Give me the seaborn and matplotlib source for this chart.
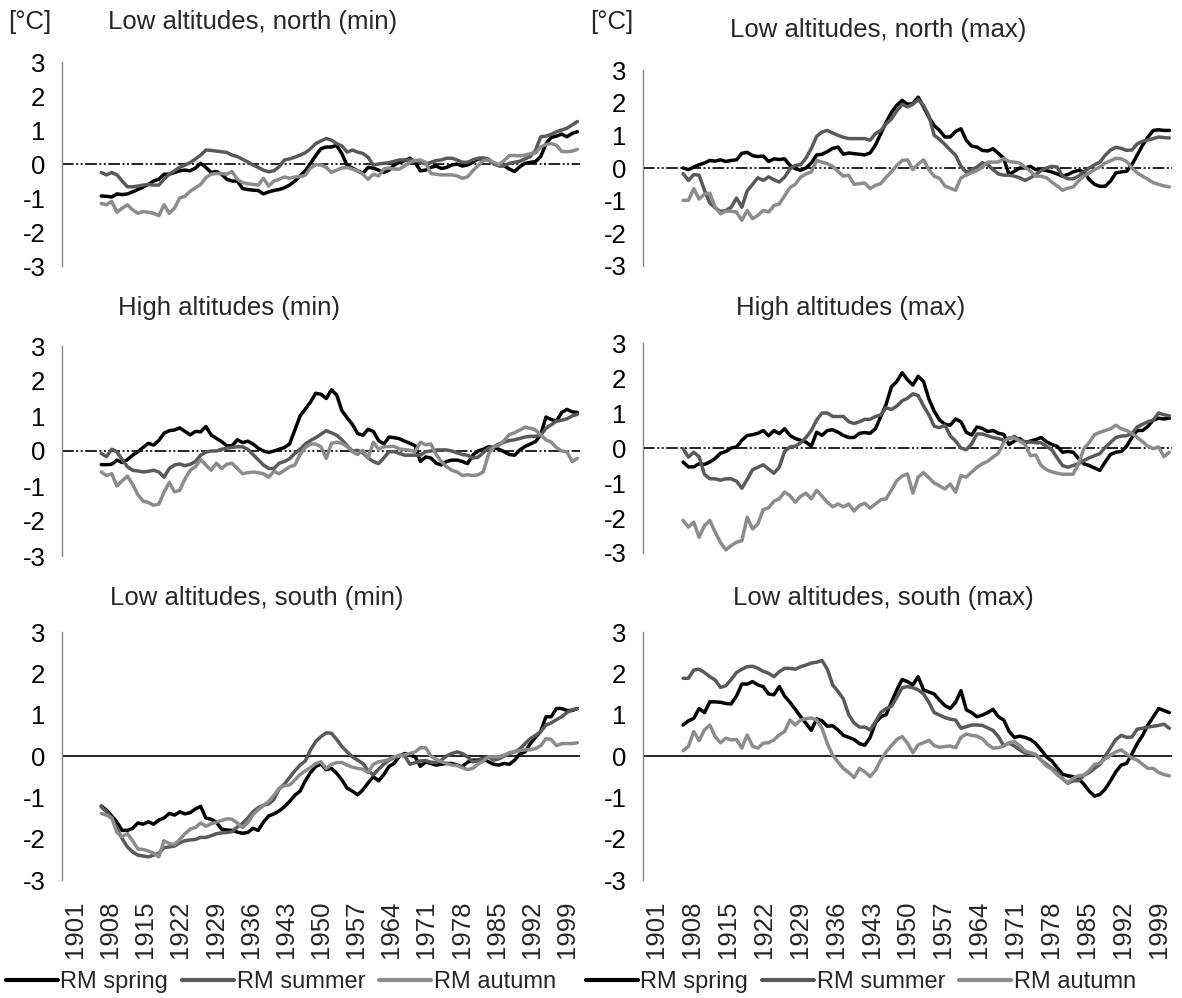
import matplotlib
matplotlib.use("Agg")
import matplotlib.pyplot as plt
import seaborn as sns
import pandas as pd
from matplotlib.lines import Line2D

years = list(range(1908, 2000))
xtick_years = list(range(1901, 2000, 7))
season_names = ["RM spring", "RM summer", "RM autumn"]

# ---------------- Low altitudes, north (min)
nmin_spring = [-0.94, -0.95,
    -0.97, -0.88, -0.9, -0.88, -0.82, -0.75, -0.68, -0.6, -0.5, -0.45,
    -0.3, -0.3, -0.25, -0.2, -0.18, -0.2, -0.12, 0.02, -0.1, -0.25,
    -0.22, -0.3, -0.45, -0.5, -0.5, -0.72, -0.75, -0.77, -0.78, -0.88,
    -0.82, -0.78, -0.75, -0.7, -0.62, -0.5, -0.35, -0.2, 0.02, 0.25,
    0.45, 0.5, 0.5, 0.55, 0.3, -0.05, -0.12, -0.2, -0.27, -0.1,
    -0.12, -0.18, -0.25, -0.18, -0.03, 0.05, 0.1, 0.17, 0.04, -0.2,
    -0.18, -0.1, -0.06, -0.13, -0.1, -0.03, 0.0, -0.06, -0.03, 0.05,
    0.15, 0.15, 0.12, 0.02, -0.05, -0.05, -0.15, -0.22, -0.08, 0.02,
    0.05, 0.07, 0.22, 0.6, 0.78, 0.82, 0.88, 0.8, 0.9, 0.95]
nmin_summer = [-0.25, -0.32,
    -0.25, -0.32, -0.5, -0.67, -0.67, -0.65, -0.62, -0.6, -0.62, -0.62,
    -0.45, -0.3, -0.2, -0.1, -0.03, 0.04, 0.15, 0.26, 0.41, 0.4,
    0.38, 0.36, 0.34, 0.26, 0.22, 0.14, 0.06, -0.03, -0.1, -0.18,
    -0.23, -0.2, -0.08, 0.12, 0.15, 0.2, 0.26, 0.33, 0.45, 0.6,
    0.68, 0.75, 0.7, 0.6, 0.53, 0.35, 0.41, 0.35, 0.31, 0.2,
    -0.03, 0.0, 0.02, 0.04, 0.08, 0.12, 0.12, 0.12, 0.1, 0.05,
    0.0, 0.05, 0.1, 0.12, 0.17, 0.17, 0.12, 0.05, 0.05, 0.12,
    0.17, 0.18, 0.15, 0.0, -0.05, -0.05, 0.02, 0.05, 0.08, 0.15,
    0.22, 0.4, 0.8, 0.82, 0.87, 0.95, 1.0, 1.05, 1.15, 1.25]
nmin_autumn = [-1.16, -1.2,
    -1.1, -1.42, -1.3, -1.2, -1.35, -1.45, -1.4, -1.42, -1.45, -1.52,
    -1.2, -1.45, -1.3, -1.0, -0.95, -0.8, -0.7, -0.6, -0.4, -0.3,
    -0.28, -0.28, -0.3, -0.22, -0.45, -0.55, -0.58, -0.6, -0.62, -0.42,
    -0.65, -0.5, -0.45, -0.38, -0.42, -0.38, -0.37, -0.33, -0.12, -0.02,
    -0.03, -0.1, -0.25, -0.18, -0.12, -0.1, -0.15, -0.2, -0.3, -0.45,
    -0.3, -0.35, -0.15, -0.12, -0.15, -0.15, -0.05, 0.05, 0.1, 0.12,
    0.05, -0.28, -0.3, -0.32, -0.32, -0.32, -0.35, -0.42, -0.38, -0.2,
    -0.05, 0.1, 0.12, 0.05, -0.02, 0.1, 0.25, 0.25, 0.24, 0.26,
    0.3, 0.33, 0.5, 0.58, 0.6, 0.55, 0.37, 0.36, 0.38, 0.43]

# ---------------- Low altitudes, north (max)
nmax_spring = [0.0, -0.05,
    0.03, 0.1, 0.15, 0.23, 0.21, 0.25, 0.2, 0.23, 0.25, 0.45,
    0.48, 0.38, 0.35, 0.37, 0.2, 0.28, 0.26, 0.28, 0.08, -0.02,
    -0.07, 0.0, 0.15, 0.4, 0.42, 0.5, 0.6, 0.64, 0.42, 0.46,
    0.44, 0.42, 0.4, 0.46, 0.7, 1.05, 1.4, 1.7, 1.92, 2.07,
    1.95, 1.97, 2.17, 1.87, 1.55, 1.3, 1.15, 0.95, 0.95, 1.12,
    1.2, 0.85, 0.67, 0.64, 0.54, 0.52, 0.59, 0.45, 0.3, -0.2,
    -0.1, 0.0, 0.0, 0.05, -0.05, -0.05, -0.08, -0.12, -0.18, -0.25,
    -0.2, -0.12, -0.07, -0.12, -0.35, -0.5, -0.56, -0.56, -0.4, -0.15,
    -0.12, -0.1, 0.1, 0.4, 0.7, 0.95, 1.15, 1.17, 1.15, 1.15]
nmax_summer = [-0.17, -0.38,
    -0.2, -0.22, -0.68, -1.07, -1.22, -1.33, -1.3, -1.2, -0.92, -1.2,
    -0.7, -0.5, -0.3, -0.38, -0.27, -0.36, -0.43, -0.28, -0.03, 0.08,
    0.1, 0.3, 0.6, 0.97, 1.1, 1.15, 1.07, 1.0, 0.94, 0.9,
    0.9, 0.9, 0.9, 0.85, 1.05, 1.15, 1.35, 1.5, 1.75, 1.95,
    1.87, 1.95, 2.09, 1.92, 1.6, 1.0, 0.88, 0.72, 0.55, 0.39,
    0.05, -0.13, -0.05, 0.03, 0.16, 0.1, -0.05, -0.18, -0.22, -0.22,
    -0.25, -0.3, -0.38, -0.3, -0.2, -0.08, 0.0, 0.05, 0.03, -0.25,
    -0.33, -0.33, -0.25, -0.12, 0.0, 0.1, 0.18, 0.39, 0.55, 0.63,
    0.6, 0.54, 0.55, 0.74, 0.82, 0.86, 0.9, 0.95, 0.93, 0.92]
nmax_autumn = [-0.99, -0.99,
    -0.63, -0.95, -0.8, -0.77, -1.2, -1.4, -1.32, -1.32, -1.35, -1.6,
    -1.3, -1.55, -1.45, -1.3, -1.35, -1.15, -1.1, -0.85, -0.6, -0.5,
    -0.28, -0.18, -0.12, 0.23, 0.18, 0.13, 0.05, -0.1, -0.25, -0.22,
    -0.5, -0.48, -0.46, -0.63, -0.53, -0.48, -0.28, -0.12, 0.08, 0.23,
    0.25, -0.05, 0.12, 0.25, -0.05, -0.25, -0.32, -0.55, -0.62, -0.68,
    -0.3, -0.22, -0.14, -0.08, 0.03, 0.18, 0.18, 0.18, 0.29, 0.2,
    0.18, 0.15, 0.02, -0.1, -0.25, -0.25, -0.3, -0.43, -0.55, -0.68,
    -0.62, -0.58, -0.4, -0.25, -0.15, -0.05, 0.03, 0.15, 0.22, 0.3,
    0.28, 0.2, 0.0, -0.15, -0.25, -0.35, -0.45, -0.5, -0.55, -0.58]

# ---------------- High altitudes (min)
hmin_spring = [-0.39, -0.39,
    -0.38, -0.26, -0.33, -0.25, -0.12, -0.02, 0.1, 0.22, 0.17, 0.3,
    0.51, 0.58, 0.6, 0.66, 0.56, 0.46, 0.56, 0.55, 0.7, 0.46,
    0.36, 0.27, 0.15, 0.15, 0.32, 0.24, 0.28, 0.2, 0.08, 0.0,
    -0.04, 0.0, 0.05, 0.1, 0.2, 0.6, 1.0, 1.2, 1.4, 1.65,
    1.62, 1.5, 1.75, 1.6, 1.15, 0.95, 0.76, 0.5, 0.45, 0.62,
    0.56, 0.3, 0.2, 0.4, 0.38, 0.35, 0.28, 0.22, 0.15, -0.3,
    -0.17, -0.2, -0.35, -0.4, -0.3, -0.26, -0.26, -0.3, -0.36, -0.12,
    0.0, 0.05, 0.12, 0.1, 0.05, -0.02, -0.1, -0.12, 0.03, 0.13,
    0.2, 0.27, 0.47, 0.97, 0.9, 0.85, 1.1, 1.19, 1.12, 1.1]
hmin_summer = [-0.07, -0.16,
    0.05, -0.02, -0.25, -0.45, -0.55, -0.57, -0.6, -0.58, -0.55, -0.6,
    -0.75, -0.5, -0.4, -0.37, -0.42, -0.38, -0.3, -0.12, -0.03, 0.0,
    0.0, 0.05, 0.08, 0.1, 0.12, 0.12, 0.05, -0.1, -0.25, -0.4,
    -0.5, -0.5, -0.35, -0.3, -0.22, -0.07, 0.05, 0.2, 0.3, 0.38,
    0.48, 0.58, 0.52, 0.45, 0.32, 0.15, 0.0, 0.02, -0.05, -0.2,
    -0.3, -0.36, -0.2, -0.02, -0.02, -0.07, -0.12, -0.12, -0.12, -0.12,
    -0.02, 0.0, 0.03, 0.03, 0.03, 0.0, -0.05, -0.1, -0.12, -0.2,
    -0.18, -0.05, 0.08, 0.12, 0.2, 0.25, 0.3, 0.32, 0.36, 0.4,
    0.42, 0.42, 0.45, 0.65, 0.75, 0.85, 0.88, 0.92, 1.0, 1.05]
hmin_autumn = [-0.6, -0.7,
    -0.65, -1.0, -0.85, -0.72, -0.95, -1.25, -1.43, -1.47, -1.55, -1.52,
    -1.18, -0.9, -1.17, -1.12, -0.8, -0.55, -0.45, -0.25, -0.4, -0.55,
    -0.35, -0.5, -0.38, -0.35, -0.5, -0.65, -0.62, -0.6, -0.62, -0.65,
    -0.75, -0.58, -0.65, -0.55, -0.45, -0.4, -0.1, 0.1, 0.2, 0.2,
    0.12, -0.21, 0.22, 0.25, 0.22, 0.12, -0.02, -0.1, 0.02, -0.2,
    0.25, 0.05, 0.12, 0.13, 0.13, 0.06, 0.04, 0.02, -0.02, 0.25,
    0.18, 0.2, -0.1, -0.3, -0.45, -0.55, -0.6, -0.7, -0.68, -0.7,
    -0.68, -0.6, -0.1, 0.12, 0.16, 0.3, 0.47, 0.52, 0.6, 0.68,
    0.65, 0.6, 0.46, 0.32, 0.25, 0.1, 0.0, -0.02, -0.3, -0.21]

# ---------------- High altitudes (max)
hmax_spring = [-0.4, -0.54,
    -0.54, -0.45, -0.47, -0.4, -0.3, -0.15, -0.1, 0.0, 0.03, 0.22,
    0.36, 0.38, 0.42, 0.5, 0.35, 0.5, 0.41, 0.55, 0.36, 0.27,
    0.22, 0.17, 0.05, 0.45, 0.36, 0.5, 0.52, 0.45, 0.36, 0.3,
    0.3, 0.42, 0.44, 0.42, 0.55, 0.9, 1.25, 1.75, 1.9, 2.15,
    1.95, 1.8, 2.05, 1.9, 1.4, 1.05, 0.8, 0.68, 0.65, 0.83,
    0.75, 0.45, 0.37, 0.6, 0.56, 0.47, 0.5, 0.42, 0.39, 0.1,
    0.2, 0.27, 0.15, 0.2, 0.24, 0.3, 0.18, 0.1, 0.05, -0.12,
    -0.1, -0.12, -0.3, -0.45, -0.5, -0.57, -0.64, -0.4, -0.18, -0.12,
    -0.1, 0.05, 0.3, 0.5, 0.5, 0.62, 0.8, 0.85, 0.83, 0.85]
hmax_summer = [-0.02, -0.26,
    -0.12, -0.25, -0.75, -0.88, -0.88, -0.92, -0.88, -0.88, -0.95, -1.15,
    -0.9, -0.62, -0.55, -0.48, -0.6, -0.72, -0.55, -0.1, 0.03, 0.05,
    0.15, 0.3, 0.5, 0.8, 1.0, 1.0, 0.9, 0.9, 0.9, 0.75,
    0.7, 0.75, 0.82, 0.82, 0.9, 0.95, 1.15, 1.1, 1.2, 1.35,
    1.42, 1.55, 1.5, 1.2, 0.95, 0.62, 0.58, 0.65, 0.35, 0.2,
    0.0, -0.05, 0.12, 0.4, 0.4, 0.35, 0.3, 0.27, 0.22, 0.27,
    0.33, 0.22, 0.18, 0.17, 0.15, 0.15, 0.05, -0.05, -0.28, -0.5,
    -0.55, -0.5, -0.45, -0.36, -0.28, -0.22, -0.16, 0.02, 0.16, 0.3,
    0.34, 0.35, 0.42, 0.6, 0.68, 0.75, 0.8, 1.0, 0.95, 0.92]
hmax_autumn = [-2.07, -2.26,
    -2.12, -2.55, -2.22, -2.07, -2.4, -2.7, -2.91, -2.79, -2.69, -2.65,
    -1.98, -2.31, -2.17, -1.76, -1.71, -1.52, -1.45, -1.26, -1.36, -1.55,
    -1.38, -1.29, -1.45, -1.21, -1.38, -1.55, -1.68, -1.6, -1.68, -1.6,
    -1.8, -1.64, -1.58, -1.72, -1.6, -1.48, -1.45, -1.2, -0.93, -0.8,
    -0.74, -1.29, -0.83, -0.7, -0.85, -1.0, -1.08, -1.17, -1.03, -1.26,
    -0.79, -0.83, -0.69, -0.55, -0.45, -0.38, -0.26, -0.15, 0.15, 0.3,
    0.28, 0.2, 0.1, -0.22, -0.2, -0.5, -0.62, -0.68, -0.72, -0.75,
    -0.75, -0.75, -0.45, -0.02, 0.15, 0.38, 0.45, 0.5, 0.55, 0.65,
    0.55, 0.5, 0.42, 0.3, 0.18, 0.05, -0.02, 0.03, -0.25, -0.12]

# ---------------- Low altitudes, south (min)
smin_spring = [-1.21, -1.31,
    -1.45, -1.6, -1.8, -1.8, -1.75, -1.62, -1.65, -1.59, -1.65, -1.55,
    -1.5, -1.39, -1.43, -1.35, -1.4, -1.37, -1.28, -1.22, -1.5, -1.53,
    -1.6, -1.77, -1.79, -1.8, -1.84, -1.87, -1.85, -1.75, -1.8, -1.6,
    -1.45, -1.4, -1.33, -1.23, -1.1, -0.95, -0.85, -0.6, -0.4, -0.25,
    -0.2, -0.33, -0.3, -0.42, -0.58, -0.78, -0.85, -0.94, -0.82, -0.65,
    -0.5, -0.6, -0.45, -0.25, -0.18, 0.0, 0.06, 0.02, -0.02, -0.25,
    -0.14, -0.18, -0.22, -0.2, -0.18, -0.18, -0.22, -0.26, -0.15, -0.1,
    -0.1, -0.06, -0.14, -0.2, -0.22, -0.18, -0.2, -0.1, 0.05, 0.1,
    0.3, 0.45, 0.6, 0.95, 0.95, 1.15, 1.15, 1.1, 1.1, 1.15]
smin_summer = [-1.23, -1.35,
    -1.5, -1.75, -2.0, -2.2, -2.32, -2.4, -2.42, -2.44, -2.4, -2.35,
    -2.22, -2.2, -2.18, -2.1, -2.05, -2.03, -2.02, -1.97, -1.97, -1.93,
    -1.88, -1.86, -1.85, -1.83, -1.72, -1.63, -1.5, -1.35, -1.25, -1.19,
    -1.16, -1.05, -0.8, -0.68, -0.52, -0.36, -0.22, -0.12, 0.15, 0.35,
    0.47, 0.56, 0.55, 0.4, 0.23, 0.1, -0.02, -0.1, -0.18, -0.35,
    -0.46, -0.32, -0.2, -0.1, -0.04, 0.02, 0.0, -0.2, -0.16, -0.12,
    -0.11, -0.15, -0.16, -0.1, 0.0, 0.06, 0.1, 0.06, -0.02, -0.14,
    -0.12, -0.06, -0.02, -0.1, -0.07, 0.0, 0.06, 0.1, 0.17, 0.3,
    0.42, 0.5, 0.59, 0.75, 0.8, 0.88, 0.95, 1.05, 1.12, 1.15]
smin_autumn = [-1.39, -1.43,
    -1.5, -1.85, -1.95, -1.88, -2.05, -2.25, -2.26, -2.3, -2.35, -2.44,
    -2.05, -2.12, -2.14, -2.02, -1.88, -1.77, -1.73, -1.62, -1.7, -1.64,
    -1.6, -1.56, -1.52, -1.53, -1.62, -1.73, -1.62, -1.42, -1.3, -1.2,
    -1.1, -0.95, -0.78, -0.72, -0.7, -0.58, -0.45, -0.36, -0.28, -0.18,
    -0.14, -0.3, -0.2, -0.16, -0.16, -0.22, -0.27, -0.3, -0.32, -0.4,
    -0.2, -0.14, -0.12, -0.08, -0.02, 0.0, 0.03, 0.06, 0.1, 0.2,
    0.2, 0.0, -0.08, -0.14, -0.18, -0.22, -0.23, -0.28, -0.33, -0.3,
    -0.2, -0.12, -0.02, -0.02, -0.02, 0.02, 0.08, 0.11, 0.13, 0.15,
    0.15, 0.18, 0.25, 0.42, 0.4, 0.25, 0.3, 0.3, 0.3, 0.32]

# ---------------- Low altitudes, south (max)
smax_spring = [0.75, 0.85,
    0.91, 1.15, 1.05, 1.31, 1.31, 1.3, 1.27, 1.26, 1.45, 1.74,
    1.74, 1.8, 1.72, 1.68, 1.5, 1.48, 1.68, 1.45, 1.3, 1.13,
    0.95, 0.79, 0.62, 0.9, 0.85, 0.72, 0.73, 0.63, 0.5, 0.45,
    0.4, 0.3, 0.26, 0.45, 0.8, 0.95, 1.0, 1.3, 1.6, 1.85,
    1.8, 1.72, 1.92, 1.6, 1.55, 1.5, 1.35, 1.22, 1.15, 1.3,
    1.58, 1.12, 1.05, 0.95, 0.99, 1.05, 1.13, 0.95, 0.87, 0.6,
    0.45, 0.48, 0.45, 0.4, 0.3, 0.15, -0.02, -0.12, -0.28, -0.44,
    -0.48, -0.5, -0.55, -0.68, -0.85, -0.97, -0.93, -0.8, -0.6, -0.38,
    -0.22, -0.18, 0.05, 0.3, 0.5, 0.75, 0.95, 1.15, 1.1, 1.05]
smax_summer = [1.88, 1.88,
    2.08, 2.1, 2.02, 1.92, 1.84, 1.66, 1.7, 1.85, 2.02, 2.1,
    2.16, 2.17, 2.12, 2.05, 2.0, 1.92, 2.04, 2.12, 2.12, 2.1,
    2.16, 2.2, 2.25, 2.27, 2.31, 2.1, 1.72, 1.56, 1.38, 1.0,
    0.8, 0.7, 0.7, 0.63, 0.83, 1.05, 1.15, 1.2, 1.42, 1.65,
    1.68, 1.65, 1.6, 1.5, 1.3, 1.05, 0.99, 0.93, 0.89, 0.87,
    0.67, 0.71, 0.75, 0.75, 0.74, 0.68, 0.62, 0.47, 0.25, 0.31,
    0.24, 0.15, 0.07, 0.04, 0.03, -0.1, -0.2, -0.3, -0.38, -0.55,
    -0.66, -0.6, -0.6, -0.47, -0.4, -0.3, -0.2, 0.0, 0.2, 0.4,
    0.5, 0.45, 0.46, 0.65, 0.67, 0.7, 0.72, 0.74, 0.77, 0.67]
smax_autumn = [0.13, 0.23,
    0.59, 0.37, 0.63, 0.75, 0.47, 0.32, 0.43, 0.39, 0.4, 0.19,
    0.51, 0.24, 0.19, 0.31, 0.32, 0.39, 0.51, 0.59, 0.87, 0.75,
    0.87, 0.9, 0.92, 0.87, 0.67, 0.3, 0.02, -0.15, -0.3, -0.4,
    -0.52, -0.3, -0.38, -0.5, -0.35, -0.1, 0.1, 0.25, 0.4, 0.47,
    0.31, 0.08, 0.27, 0.32, 0.38, 0.25, 0.21, 0.23, 0.24, 0.2,
    0.45, 0.53, 0.5, 0.48, 0.42, 0.28, 0.19, 0.2, 0.24, 0.32,
    0.35, 0.25, 0.12, 0.08, 0.04, -0.1, -0.24, -0.32, -0.45, -0.55,
    -0.65, -0.54, -0.48, -0.46, -0.35, -0.2, -0.18, -0.07, 0.02, 0.1,
    0.15, 0.05, -0.05, -0.1, -0.2, -0.3, -0.3, -0.4, -0.45, -0.48]

titles = ["Low altitudes, north (min)", "Low altitudes, north (max)",
          "High altitudes (min)", "High altitudes (max)",
          "Low altitudes, south (min)", "Low altitudes, south (max)"]

sns.set_theme(style="white")
plt.rcParams['font.family'] = ['Liberation Sans', 'DejaVu Sans']
plt.rcParams['axes.unicode_minus'] = False

W, H = 1182, 998
fig = plt.figure(figsize=(W / 100, H / 100), dpi=100)
FS = 18.5
palette = {"RM spring": "#000000", "RM summer": "#5a5a5a", "RM autumn": "#8c8c8c"}
LW = 2.5


def add_ax(x0, ytop, x1, ybot):
    return fig.add_axes([x0 / W, 1 - ybot / H, (x1 - x0) / W, (ybot - ytop) / H])


panels = [
    (titles[0], (62, 62, 580, 266), (108, 22), (nmin_spring, nmin_summer, nmin_autumn), False),
    (titles[1], (643, 70, 1172, 266), (730, 30), (nmax_spring, nmax_summer, nmax_autumn), False),
    (titles[2], (62, 346, 580, 556), (118, 308), (hmin_spring, hmin_summer, hmin_autumn), False),
    (titles[3], (643, 343, 1172, 553), (736, 308), (hmax_spring, hmax_summer, hmax_autumn), False),
    (titles[4], (62, 632, 580, 880), (110, 598), (smin_spring, smin_summer, smin_autumn), True),
    (titles[5], (643, 632, 1172, 880), (733, 598), (smax_spring, smax_summer, smax_autumn), True),
]

# tick label slots of the category axis, as laid out in the original chart
label_first, label_last = 1903.0, 1997.0
tick_pos = [label_first + (y - xtick_years[0]) * (label_last - label_first)
            / (xtick_years[-1] - xtick_years[0]) for y in xtick_years]

for title, box, tpos, series, bottom in panels:
    ax = add_ax(*box)
    df = pd.DataFrame({
        "year": years * 3,
        "value": list(series[0]) + list(series[1]) + list(series[2]),
        "season": [s for s in season_names for _ in years],
    })
    ax.axhline(0, color="black", lw=1.2,
               ls="-" if bottom else (0, (7, 1.5, 1.2, 1.5, 1.2, 1.5)), zorder=1)
    sns.lineplot(data=df, x="year", y="value", hue="season", hue_order=season_names,
                 palette=palette, linewidth=LW, ax=ax, legend=False, zorder=3)
    ax.set_xlim(1900.5, 1999.5)
    ax.set_ylim(-3, 3)
    ax.set_xlabel("")
    ax.set_ylabel("")
    ax.set_yticks(range(-3, 4))
    ax.set_yticklabels([str(v) for v in range(-3, 4)], fontsize=FS)
    for s in ("top", "right", "bottom"):
        ax.spines[s].set_visible(False)
    ax.spines["left"].set_color("#868686")
    ax.spines["left"].set_linewidth(1.0)
    ax.tick_params(axis="y", direction="out", length=4, width=1.0, color="#868686",
                   pad=8, labelcolor="black")
    ax.patch.set_alpha(0)
    if bottom:
        ax.set_xticks(tick_pos)
        ax.set_xticklabels([str(y) for y in xtick_years], rotation=90, fontsize=FS)
        ax.tick_params(axis="x", length=0, pad=15)
    else:
        ax.set_xticks([])
    fig.text(tpos[0] / W, 1 - tpos[1] / H, title, fontsize=FS, ha="left", va="center")

fig.text(8 / W, 1 - 22 / H, "[°C]", fontsize=FS, ha="left", va="center")
fig.text(590 / W, 1 - 22 / H, "[°C]", fontsize=FS, ha="left", va="center")

handles = [Line2D([], [], color=palette[s], lw=3) for s in season_names]
for x0 in (6, 586):
    fig.legend(handles, season_names, loc="center left",
               bbox_to_anchor=(x0 / W, 1 - 982 / H), ncol=3, frameon=False,
               fontsize=17, handlelength=2.2, handletextpad=0.1,
               columnspacing=0.6, borderaxespad=0, borderpad=0)

fig.savefig("out.png", dpi=100)
